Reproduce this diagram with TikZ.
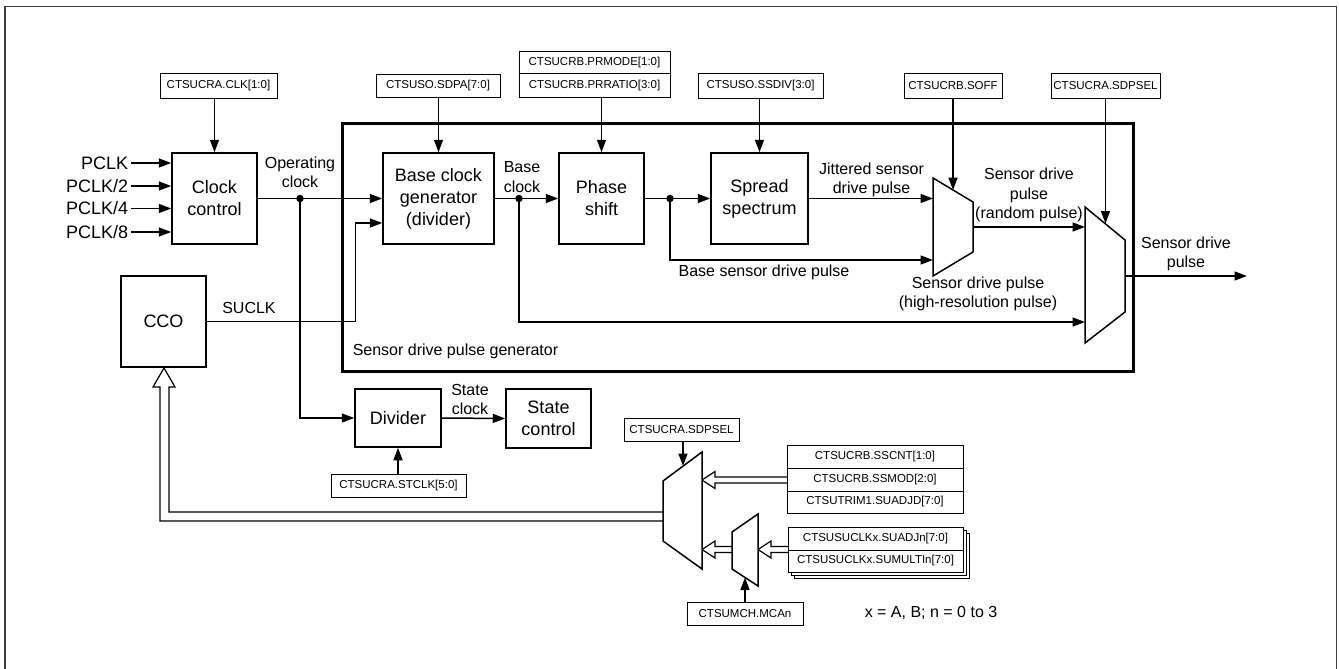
\documentclass[tikz,border=0pt]{standalone}
\usepackage{fontspec}
\setmainfont{Liberation Sans}
\usetikzlibrary{arrows.meta}
\begin{document}
\begin{tikzpicture}[x=1pt,y=-1pt,line width=1.5pt,
  arr/.style={-{Triangle[length=12.5pt,width=9pt]}},
  blk/.style={draw,line width=1.5pt,align=center,inner sep=0pt,font=\fontsize{18}{22}\selectfont},
  reg/.style={draw,line width=1pt,inner sep=0pt,fill=white,font=\fontsize{11.5}{13}\selectfont},
  lbl/.style={align=center,inner sep=0pt,font=\fontsize{16}{19.5}\selectfont},
  hollow/.style={draw,line width=1.2pt,fill=white,line join=miter},
  muxshape/.style={draw,line width=1.5pt,fill=white,line join=miter},
  dotc/.style={circle,fill=black,inner sep=0pt,minimum size=7.5pt}]
\useasboundingbox (0,0) rectangle (1339,669);
% outer frame
\draw[line width=1.6pt,black!75] (5,669) -- (5,6.5) -- (1336.5,6.5) -- (1336.5,669);
% sensor drive pulse generator frame
\draw[line width=3pt] (342,123) rectangle (1133,371);
\node[lbl,anchor=west] (sdpg) at (352,351) {Sensor drive pulse generator};

% registers (top)
\node[reg,minimum width=117,minimum height=24] (rclk) at (218.5,86) {CTSUCRA.CLK[1:0]};
\node[reg,minimum width=124,minimum height=23] (rsdpa) at (438,86) {CTSUSO.SDPA[7:0]};
\node[reg,minimum width=151,minimum height=22] (rprmode) at (594.5,63) {CTSUCRB.PRMODE[1:0]};
\node[reg,minimum width=151,minimum height=23] (rprratio) at (594.5,85.5) {CTSUCRB.PRRATIO[3:0]};
\node[reg,minimum width=125,minimum height=24] (rssdiv) at (760.5,86) {CTSUSO.SSDIV[3:0]};
\node[reg,minimum width=98,minimum height=24] (rsoff) at (953,86) {CTSUCRB.SOFF};
\node[reg,minimum width=109,minimum height=24] (rsdpsel) at (1105.5,86) {CTSUCRA.SDPSEL};

% blocks
\node[blk,minimum width=85,minimum height=91] (cc) at (214.5,198.5) {Clock\\control};
\node[blk,minimum width=111,minimum height=91] (bcg) at (438.5,198.5) {Base clock\\generator\\(divider)};
\node[blk,minimum width=85,minimum height=91] (ps) at (601.5,198.5) {Phase\\shift};
\node[blk,minimum width=97,minimum height=91] (ss) at (759.5,198.5) {Spread\\spectrum};
\node[blk,minimum width=85,minimum height=91] (cco) at (163.5,321.5) {CCO};
\node[blk,minimum width=86,minimum height=58] (div) at (398,418) {Divider};
\node[blk,minimum width=85,minimum height=59] (sc) at (548.5,418.5) {State\\control};

% PCLK inputs
\foreach \n/\t/\yy in {p1/PCLK/163,p2/PCLK\slash 2/186,p3/PCLK\slash 4/208.5,p4/PCLK\slash 8/232}{
  \node[anchor=east,inner sep=0pt,font=\fontsize{18}{22}\selectfont] (\n) at (129,\yy) {\t};
  \draw[arr] (\n.east) ++(2,0) -- (\n.east -| cc.west);
}

% multiplexers (top)
\coordinate (m1a) at (933,178); \coordinate (m1b) at (973,202);
\coordinate (m1c) at (973,252); \coordinate (m1d) at (933,276);
\coordinate (m1in1) at (933,198.5); \coordinate (m1in2) at (933,260);
\coordinate (m1out) at (973,227); \coordinate (m1sel) at (953,190);
\draw[muxshape] (m1a) -- (m1b) -- (m1c) -- (m1d) -- cycle;
\coordinate (m2a) at (1085,207); \coordinate (m2b) at (1125,240);
\coordinate (m2c) at (1125,312); \coordinate (m2d) at (1085,343);
\coordinate (m2in1) at (1085,227); \coordinate (m2in2) at (1085,322);
\coordinate (m2out) at (1125,276); \coordinate (m2sel) at (1105.5,223.5);
\draw[muxshape] (m2a) -- (m2b) -- (m2c) -- (m2d) -- cycle;
\coordinate (outend) at (1247,276);

% dots
\coordinate (opdot) at (300,198.5);
\coordinate (bcdot) at (519,198.5);
\coordinate (psdot) at (670,198.5);
\coordinate (sucbend) at (355.5,321.5);

% register arrows
\draw[arr] (cc.north |- rclk.south) -- (cc.north);
\draw[arr] (bcg.north |- rsdpa.south) -- (bcg.north);
\draw[arr] (ps.north |- rprratio.south) -- (ps.north);
\draw[arr] (ss.north |- rssdiv.south) -- (ss.north);
\draw[arr] (rsoff.south) -- (m1sel);
\draw[arr] (rsdpsel.south) -- (m2sel);

% signal paths
\draw[arr] (cc.east) -- (bcg.west);
\draw[arr] (opdot) |- (div.west);
\draw[arr] (cco.east) -- (sucbend) |- ([yshift=-24.5pt]bcg.west);
\draw[arr] (bcg.east) -- (ps.west);
\draw[arr] (bcdot) |- (m2in2);
\draw[arr] (ps.east) -- (ss.west);
\draw[arr] (psdot) |- (m1in2);
\draw[arr] (ss.east) -- (m1in1);
\draw[arr] (m1out) -- (m2in1);
\draw[arr] (m2out) -- (outend);
\draw[arr] (div.east) -- (sc.west);
\node[dotc] at (opdot) {};
\node[dotc] at (bcdot) {};
\node[dotc] at (psdot) {};

% labels
\node[lbl] (lop) at (300,172.5) {Operating\\clock};
\node[lbl] (lbc) at (522,177) {Base\\clock};
\node[lbl] (lsuclk) at (249,308) {SUCLK};
\node[lbl] (ljit) at (871.5,180) {Jittered sensor\\drive pulse};
\node[lbl] (lbsdp) at (764,272) {Base sensor drive pulse};
\node[lbl] (lrand) at (1029,195) {Sensor drive\\pulse\\(random pulse)};
\node[lbl] (lhres) at (978,294) {Sensor drive pulse\\(high-resolution pulse)};
\node[lbl] (lout) at (1186,254) {Sensor drive\\pulse};
\node[lbl] (lstate) at (470,399.5) {State\\clock};

% bottom registers
\node[reg,minimum width=135,minimum height=23] (rstclk) at (398.5,485.5) {CTSUCRA.STCLK[5:0]};
\draw[arr] (div.south |- rstclk.north) -- (div.south);
\node[reg,minimum width=115,minimum height=23] (rsdpsel2) at (681.5,429.5) {CTSUCRA.SDPSEL};
\node[reg,minimum width=116,minimum height=23] (rmcan) at (745,613.5) {CTSUMCH.MCAn};

% bottom multiplexers
\coordinate (m3a) at (663,481); \coordinate (m3b) at (702,452);
\coordinate (m3c) at (702,569); \coordinate (m3d) at (663,541);
\coordinate (m3sel) at (683,466);
\coordinate (m4a) at (732,532); \coordinate (m4b) at (758,514);
\coordinate (m4c) at (758,586); \coordinate (m4d) at (732,569);
\coordinate (m4sel) at (745,577.5);

% hollow arrows
\draw[hollow] (663,512) -- (169,512) -- (169,387) -- (175,387) -- (164,368) -- (153,387) -- (160,387) -- (160,521) -- (663,521);
\draw[hollow] (787,477) -- (715,477) -- (715,471.5) -- (702,480) -- (715,488.5) -- (715,483) -- (787,483);
\draw[hollow] (732,546.5) -- (715,546.5) -- (715,541) -- (702,549.5) -- (715,558) -- (715,552.5) -- (732,552.5);
\draw[hollow] (788,546.5) -- (771,546.5) -- (771,541) -- (758,549.5) -- (771,558) -- (771,552.5) -- (788,552.5);

\draw[muxshape] (m3a) -- (m3b) -- (m3c) -- (m3d) -- cycle;
\draw[muxshape] (m4a) -- (m4b) -- (m4c) -- (m4d) -- cycle;
\draw[arr] (m3sel |- rsdpsel2.south) -- (m3sel);
\draw[arr] (rmcan.north) -- (m4sel);

% register stacks
\node[reg,minimum width=176,minimum height=23] (rsscnt) at (875,456.5) {CTSUCRB.SSCNT[1:0]};
\node[reg,minimum width=176,minimum height=23] (rssmod) at (875,479.5) {CTSUCRB.SSMOD[2:0]};
\node[reg,minimum width=176,minimum height=22] (rsuadjd) at (875,502) {CTSUTRIM1.SUADJD[7:0]};
\draw[line width=1pt,fill=white] (794,533) rectangle (969,578);
\draw[line width=1pt,fill=white] (791,530) rectangle (966,575);
\node[reg,minimum width=175,minimum height=23] (rsuadjn) at (875.5,538.5) {CTSUSUCLKx.SUADJn[7:0]};
\node[reg,minimum width=175,minimum height=22] (rsumult) at (875.5,561) {CTSUSUCLKx.SUMULTIn[7:0]};

\node[lbl,anchor=west] (lnote) at (864,613) {x = A, B; n = 0 to 3};
\end{tikzpicture}
\end{document}
